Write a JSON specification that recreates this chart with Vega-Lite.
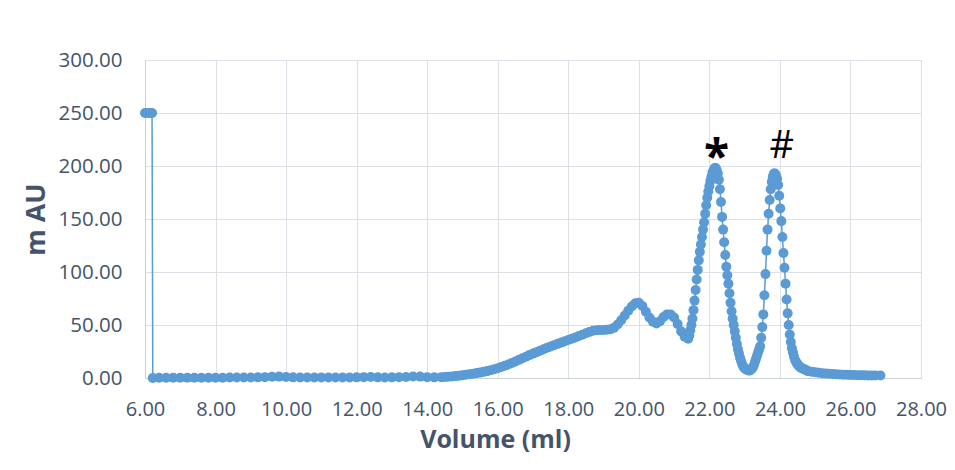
{
  "$schema": "https://vega.github.io/schema/vega-lite/v6.json",
  "width": 776,
  "height": 318,
  "autosize": {"type": "none"},
  "padding": {"left": 145, "top": 60, "right": 34, "bottom": 92},
  "background": "white",
  "config": {
    "font": "Open Sans",
    "view": {"stroke": "#D9DDE3", "strokeWidth": 1},
    "axis": {
      "labelFont": "Open Sans",
      "labelFontSize": 20.5,
      "labelColor": "#44546A",
      "labelFlush": false,
      "labelOverlap": false,
      "titleFont": "Open Sans",
      "titleFontWeight": "bold",
      "titleColor": "#44546A",
      "gridColor": "#DDE1E7",
      "gridWidth": 1,
      "ticks": false,
      "domainColor": "#C9D0DA",
      "domainWidth": 1
    }
  },
  "layer": [
    {
      "data": {
        "values": [
          {"v": 6.0, "au": 250}, {"v": 6.05, "au": 250}, {"v": 6.1, "au": 250}, {"v": 6.15, "au": 250}, {"v": 6.2, "au": 250},
          {"v": 6.22, "au": 0}, {"v": 6.4, "au": 0.2}, {"v": 6.6, "au": 0.3}, {"v": 6.8, "au": 0.3}, {"v": 7.0, "au": 0.3},
          {"v": 7.2, "au": 0.3}, {"v": 7.4, "au": 0.3}, {"v": 7.6, "au": 0.3}, {"v": 7.8, "au": 0.3}, {"v": 8.0, "au": 0.3},
          {"v": 8.2, "au": 0.3}, {"v": 8.4, "au": 0.4}, {"v": 8.6, "au": 0.4}, {"v": 8.8, "au": 0.4}, {"v": 9.0, "au": 0.5},
          {"v": 9.2, "au": 0.6}, {"v": 9.4, "au": 0.8}, {"v": 9.6, "au": 1.2}, {"v": 9.8, "au": 1.3}, {"v": 10.0, "au": 1.0},
          {"v": 10.2, "au": 0.6}, {"v": 10.4, "au": 0.4}, {"v": 10.6, "au": 0.4}, {"v": 10.8, "au": 0.4}, {"v": 11.0, "au": 0.4},
          {"v": 11.2, "au": 0.4}, {"v": 11.4, "au": 0.4}, {"v": 11.6, "au": 0.5}, {"v": 11.8, "au": 0.5}, {"v": 12.0, "au": 0.6},
          {"v": 12.2, "au": 0.8}, {"v": 12.4, "au": 1.0}, {"v": 12.6, "au": 0.6}, {"v": 12.8, "au": 0.5}, {"v": 13.0, "au": 0.6},
          {"v": 13.2, "au": 0.8}, {"v": 13.4, "au": 1.0}, {"v": 13.6, "au": 1.4}, {"v": 13.8, "au": 1.3}, {"v": 14.0, "au": 0.8},
          {"v": 14.2, "au": 0.6}, {"v": 14.4, "au": 0.8}, {"v": 14.5, "au": 1.0}, {"v": 14.6, "au": 1.2}, {"v": 14.7, "au": 1.5},
          {"v": 14.8, "au": 1.8}, {"v": 14.9, "au": 2.2}, {"v": 15.0, "au": 2.7}, {"v": 15.1, "au": 3.1}, {"v": 15.2, "au": 3.6},
          {"v": 15.3, "au": 4.1}, {"v": 15.4, "au": 4.6}, {"v": 15.5, "au": 5.1}, {"v": 15.6, "au": 5.8}, {"v": 15.7, "au": 6.5},
          {"v": 15.8, "au": 7.3}, {"v": 15.9, "au": 8.2}, {"v": 16.0, "au": 9.2}, {"v": 16.1, "au": 10.3}, {"v": 16.2, "au": 11.5},
          {"v": 16.3, "au": 12.8}, {"v": 16.4, "au": 14.2}, {"v": 16.5, "au": 15.6}, {"v": 16.6, "au": 17.1}, {"v": 16.7, "au": 18.6},
          {"v": 16.8, "au": 20.1}, {"v": 16.9, "au": 21.6}, {"v": 17.0, "au": 23.0}, {"v": 17.1, "au": 24.4}, {"v": 17.2, "au": 25.8},
          {"v": 17.3, "au": 27.2}, {"v": 17.4, "au": 28.5}, {"v": 17.5, "au": 29.8}, {"v": 17.6, "au": 31.0}, {"v": 17.7, "au": 32.2},
          {"v": 17.8, "au": 33.4}, {"v": 17.9, "au": 34.6}, {"v": 18.0, "au": 35.8}, {"v": 18.1, "au": 37.0}, {"v": 18.2, "au": 38.3},
          {"v": 18.3, "au": 39.6}, {"v": 18.4, "au": 40.9}, {"v": 18.5, "au": 42.2}, {"v": 18.6, "au": 43.5}, {"v": 18.7, "au": 44.5},
          {"v": 18.8, "au": 45.0}, {"v": 18.9, "au": 45.2}, {"v": 19.0, "au": 45.3}, {"v": 19.1, "au": 45.5}, {"v": 19.2, "au": 46.0},
          {"v": 19.3, "au": 47.5}, {"v": 19.4, "au": 50.5}, {"v": 19.5, "au": 54.5}, {"v": 19.6, "au": 59.0}, {"v": 19.7, "au": 63.5},
          {"v": 19.8, "au": 67.5}, {"v": 19.9, "au": 70.5}, {"v": 20.0, "au": 71.0}, {"v": 20.1, "au": 68.0}, {"v": 20.2, "au": 62.5},
          {"v": 20.3, "au": 57.0}, {"v": 20.4, "au": 53.0}, {"v": 20.5, "au": 51.5}, {"v": 20.6, "au": 53.5}, {"v": 20.7, "au": 57.5},
          {"v": 20.8, "au": 60.0}, {"v": 20.9, "au": 60.0}, {"v": 21.0, "au": 57.0}, {"v": 21.1, "au": 51.0}, {"v": 21.2, "au": 44.0},
          {"v": 21.3, "au": 39.0}, {"v": 21.4, "au": 37}, {"v": 21.43, "au": 40}, {"v": 21.46, "au": 45}, {"v": 21.49, "au": 50},
          {"v": 21.52, "au": 56}, {"v": 21.55, "au": 64}, {"v": 21.58, "au": 73}, {"v": 21.61, "au": 83}, {"v": 21.64, "au": 93},
          {"v": 21.67, "au": 102}, {"v": 21.7, "au": 111}, {"v": 21.73, "au": 119}, {"v": 21.76, "au": 126}, {"v": 21.79, "au": 133},
          {"v": 21.82, "au": 140}, {"v": 21.85, "au": 147}, {"v": 21.88, "au": 155}, {"v": 21.91, "au": 163}, {"v": 21.94, "au": 170},
          {"v": 21.97, "au": 176}, {"v": 22.0, "au": 181}, {"v": 22.03, "au": 186}, {"v": 22.06, "au": 190}, {"v": 22.09, "au": 194},
          {"v": 22.12, "au": 196}, {"v": 22.15, "au": 198}, {"v": 22.18, "au": 198}, {"v": 22.21, "au": 196}, {"v": 22.24, "au": 193},
          {"v": 22.27, "au": 187}, {"v": 22.3, "au": 178}, {"v": 22.33, "au": 166}, {"v": 22.36, "au": 152}, {"v": 22.39, "au": 140},
          {"v": 22.42, "au": 128}, {"v": 22.45, "au": 116}, {"v": 22.48, "au": 105}, {"v": 22.51, "au": 97}, {"v": 22.54, "au": 89},
          {"v": 22.57, "au": 80}, {"v": 22.6, "au": 71}, {"v": 22.63, "au": 63}, {"v": 22.66, "au": 56}, {"v": 22.69, "au": 50},
          {"v": 22.72, "au": 44}, {"v": 22.75, "au": 38}, {"v": 22.78, "au": 32}, {"v": 22.81, "au": 27}, {"v": 22.84, "au": 23},
          {"v": 22.87, "au": 19}, {"v": 22.9, "au": 16}, {"v": 22.93, "au": 13}, {"v": 22.96, "au": 11}, {"v": 22.99, "au": 9.5},
          {"v": 23.02, "au": 8.5}, {"v": 23.05, "au": 8}, {"v": 23.08, "au": 7.5}, {"v": 23.11, "au": 7}, {"v": 23.14, "au": 7},
          {"v": 23.17, "au": 7.5}, {"v": 23.2, "au": 8.5}, {"v": 23.23, "au": 10}, {"v": 23.26, "au": 12}, {"v": 23.29, "au": 15},
          {"v": 23.32, "au": 18}, {"v": 23.35, "au": 21}, {"v": 23.38, "au": 24}, {"v": 23.41, "au": 27}, {"v": 23.44, "au": 30},
          {"v": 23.47, "au": 38}, {"v": 23.5, "au": 48}, {"v": 23.53, "au": 60}, {"v": 23.56, "au": 78}, {"v": 23.59, "au": 98},
          {"v": 23.62, "au": 120}, {"v": 23.65, "au": 140}, {"v": 23.68, "au": 155}, {"v": 23.71, "au": 168}, {"v": 23.74, "au": 178},
          {"v": 23.77, "au": 185}, {"v": 23.8, "au": 190}, {"v": 23.83, "au": 193}, {"v": 23.86, "au": 193}, {"v": 23.89, "au": 191},
          {"v": 23.92, "au": 188}, {"v": 23.95, "au": 182}, {"v": 23.98, "au": 172}, {"v": 24.01, "au": 160}, {"v": 24.04, "au": 148},
          {"v": 24.07, "au": 133}, {"v": 24.1, "au": 118}, {"v": 24.13, "au": 104}, {"v": 24.16, "au": 89}, {"v": 24.19, "au": 74},
          {"v": 24.22, "au": 61}, {"v": 24.25, "au": 50}, {"v": 24.28, "au": 41}, {"v": 24.31, "au": 34}, {"v": 24.34, "au": 28},
          {"v": 24.37, "au": 24}, {"v": 24.4, "au": 20}, {"v": 24.43, "au": 17}, {"v": 24.46, "au": 15}, {"v": 24.49, "au": 13.5},
          {"v": 24.52, "au": 12}, {"v": 24.55, "au": 11}, {"v": 24.58, "au": 10}, {"v": 24.61, "au": 9.5}, {"v": 24.64, "au": 9},
          {"v": 24.67, "au": 8.5}, {"v": 24.7, "au": 8}, {"v": 24.73, "au": 7.5}, {"v": 24.76, "au": 7}, {"v": 24.79, "au": 6.5},
          {"v": 24.9, "au": 6}, {"v": 25.0, "au": 5.5}, {"v": 25.1, "au": 5}, {"v": 25.2, "au": 4.5}, {"v": 25.3, "au": 4.2},
          {"v": 25.4, "au": 4}, {"v": 25.5, "au": 3.7}, {"v": 25.6, "au": 3.5}, {"v": 25.7, "au": 3.3}, {"v": 25.8, "au": 3.1},
          {"v": 25.9, "au": 3}, {"v": 26.0, "au": 2.9}, {"v": 26.1, "au": 2.8}, {"v": 26.2, "au": 2.7}, {"v": 26.3, "au": 2.6},
          {"v": 26.4, "au": 2.5}, {"v": 26.5, "au": 2.4}, {"v": 26.6, "au": 2.4}, {"v": 26.7, "au": 2.3}, {"v": 26.85, "au": 2.3}
        ]
      },
      "mark": {
        "type": "line",
        "color": "#5B9BD5",
        "strokeWidth": 1.5,
        "clip": false,
        "point": {"filled": true, "size": 100, "color": "#5B9BD5", "opacity": 1}
      },
      "encoding": {
        "x": {
          "field": "v",
          "type": "quantitative",
          "scale": {"domain": [6, 28], "nice": false, "zero": false},
          "axis": {
            "title": "Volume (ml)",
            "values": [6, 8, 10, 12, 14, 16, 18, 20, 22, 24, 26, 28],
            "format": ".2f",
            "labelFontSize": 20,
            "labelPadding": 21,
            "titlePadding": 8,
            "titleFontSize": 25,
            "titleX": 350,
            "grid": true
          }
        },
        "y": {
          "field": "au",
          "type": "quantitative",
          "scale": {"domain": [0, 300], "nice": false},
          "axis": {
            "title": "m AU",
            "values": [0, 50, 100, 150, 200, 250, 300],
            "format": ".2f",
            "labelPadding": 23,
            "titlePadding": 8,
            "titleFontSize": 27,
            "grid": true
          }
        }
      }
    },
    {
      "data": {"values": [{"v": 22.2, "au": 193, "label": "*"}]},
      "mark": {"type": "text", "font": "Open Sans", "fontSize": 46, "fontWeight": "bold", "color": "black", "baseline": "alphabetic", "align": "center"},
      "encoding": {
        "x": {"field": "v", "type": "quantitative"},
        "y": {"field": "au", "type": "quantitative"},
        "text": {"field": "label"}
      }
    },
    {
      "data": {"values": [{"v": 24.05, "au": 207.5, "label": "#"}]},
      "mark": {"type": "text", "font": "Open Sans", "fontSize": 38, "color": "black", "baseline": "alphabetic", "align": "center"},
      "encoding": {
        "x": {"field": "v", "type": "quantitative"},
        "y": {"field": "au", "type": "quantitative"},
        "text": {"field": "label"}
      }
    }
  ]
}
